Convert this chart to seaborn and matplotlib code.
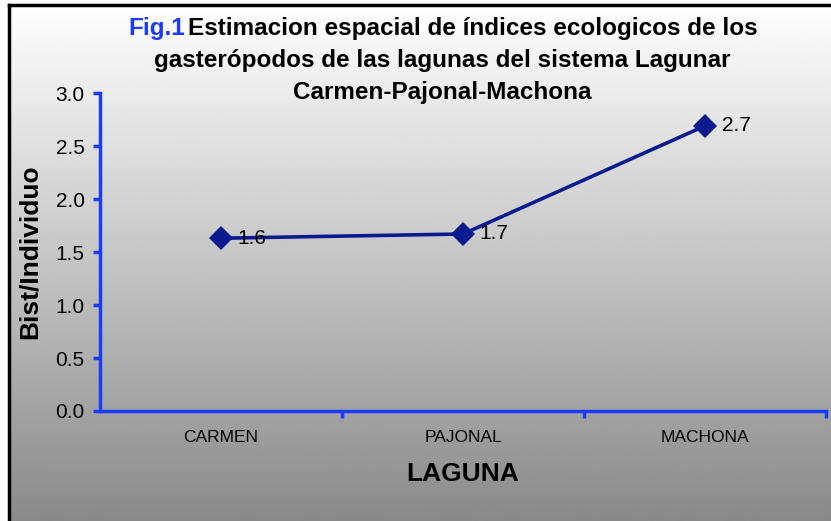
import numpy as np
import pandas as pd
import matplotlib
matplotlib.use("Agg")
import matplotlib.pyplot as plt
import seaborn as sns

# datos
lagunas = ["CARMEN", "PAJONAL", "MACHONA"]
valores = [1.63, 1.67, 2.69]
etiquetas = ["1.6", "1.7", "2.7"]

sns.set_theme(style="white")
plt.rcParams['font.family'] = ['Liberation Sans', 'DejaVu Sans']
plt.rcParams['text.color'] = 'black'
plt.rcParams['axes.labelcolor'] = 'black'
plt.rcParams['xtick.color'] = 'black'
plt.rcParams['ytick.color'] = 'black'
narrow = ['Liberation Sans Narrow', 'Liberation Sans', 'DejaVu Sans']

W, H = 831, 521
fig = plt.figure(figsize=(W / 100, H / 100), dpi=100)
fig.patch.set_facecolor('white')

# fondo con degradado vertical
bg = fig.add_axes([9 / W, 0, 1 - 9 / W, 1 - 5 / H], zorder=0)
grad = np.linspace(1.0, 0.54, 256).reshape(-1, 1)
bg.imshow(grad, aspect='auto', cmap='gray', vmin=0, vmax=1, extent=[0, 1, 0, 1])
bg.set_xticks([])
bg.set_yticks([])
for s in ['right', 'bottom']:
    bg.spines[s].set_visible(False)
for s in ['left', 'top']:
    bg.spines[s].set_color('black')
    bg.spines[s].set_linewidth(2.5)

ax = fig.add_axes([100 / W, 1 - 411 / H, 726 / W, 318 / H], zorder=1)
ax.patch.set_alpha(0)

df = pd.DataFrame({"Laguna": lagunas, "Valor": valores})
sns.lineplot(data=df, x="Laguna", y="Valor", ax=ax, color='#0a1a8f',
             linewidth=2.6, marker='D', markersize=12, markeredgewidth=0)

for i, (v, t) in enumerate(zip(valores, etiquetas)):
    ax.annotate(t, (i, v), xytext=(12, 0), textcoords='offset points',
                ha='left', va='center', fontsize=15, color='black')

ax.set_xlim(-0.5, 2.5)
ax.set_ylim(0, 3)
ax.set_yticks(np.arange(0, 3.01, 0.5))
ax.set_yticklabels([f"{y:.1f}" for y in np.arange(0, 3.01, 0.5)], fontsize=15)
ax.set_xticks(range(len(lagunas)))
ax.set_xticklabels(lagunas, fontsize=12.5, family=narrow)
ax.set_xticks([0.5, 1.5, 2.5], minor=True)
ax.tick_params(axis='x', which='major', length=0, pad=14)
ax.tick_params(axis='x', which='minor', length=5, width=2.5, color='#1a3cff', bottom=True)
ax.tick_params(axis='y', length=5, width=2.5, color='#1a3cff', left=True, pad=6)

for s in ['right', 'top']:
    ax.spines[s].set_visible(False)
for s in ['left', 'bottom']:
    ax.spines[s].set_color('#1a3cff')
    ax.spines[s].set_linewidth(2.5)

ax.set_xlabel("LAGUNA", fontsize=19, fontweight='bold', family=narrow, labelpad=12)
ax.set_ylabel("Bist/Individuo", fontsize=19, fontweight='bold', labelpad=10)

# titulo: "Fig.1" en azul, resto en negro
fig.canvas.draw()
r = fig.canvas.get_renderer()
tsize = 17.5
cx = 442 / W
t1a = fig.text(0, 1 - 29 / H, "Fig.1", color='#1a3cff', fontsize=tsize, fontweight='bold',
               family=narrow, ha='left', va='center')
t1b = fig.text(0, 1 - 29 / H, "Estimacion espacial de índices ecologicos de los", color='black',
               fontsize=tsize, fontweight='bold', family=narrow, ha='left', va='center')
wa = t1a.get_window_extent(r).width / W
wb = t1b.get_window_extent(r).width / W
x0 = cx - (wa + wb) / 2
t1a.set_x(x0)
t1b.set_x(x0 + wa + 2 / W)
fig.text(cx, 1 - 61 / H, "gasterópodos de las lagunas del sistema Lagunar", fontsize=tsize,
         fontweight='bold', family=narrow, ha='center', va='center')
fig.text(cx, 1 - 93 / H, "Carmen-Pajonal-Machona", fontsize=tsize, fontweight='bold',
         family=narrow, ha='center', va='center')

fig.savefig("out.png", dpi=100)
